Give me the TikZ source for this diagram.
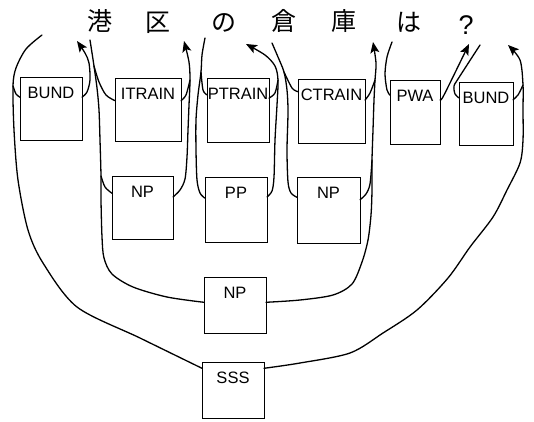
\documentclass[tikz,border=0pt]{standalone}
\usepackage{fontspec}
\newfontfamily\cjk{Noto Sans CJK JP}
\newfontfamily\lblfont{Liberation Sans}
\usetikzlibrary{arrows.meta}
\tikzset{
  box/.style={draw, line width=1pt, inner sep=0pt, outer sep=0pt},
  lbl/.style={font=\lblfont\fontsize{16.5}{16.5}\selectfont, inner sep=0pt, anchor=north, yshift=-9.5pt},
  wire/.style={line width=1.3pt, line cap=round, line join=round},
  arr/.style={wire, -{Stealth[length=11pt,width=9pt,inset=2.5pt]}},
  word/.style={font=\cjk\fontsize{25}{25}\selectfont, inner sep=0pt},
  qmark/.style={font=\lblfont\fontsize{27}{27}\selectfont, inner sep=0pt},
}
\begin{document}
\begin{tikzpicture}[x=1pt,y=-1pt]
\useasboundingbox (0,0) rectangle (534,421);
% title
\node[word] (w1) at (100,21) {港};
\node[word] (w2) at (158,23) {区};
\node[word] (w3) at (224,23) {の};
\node[word] (w4) at (284,21) {倉};
\node[word] (w5) at (344,21) {庫};
\node[word] (w6) at (409,22) {は};
\node[qmark] (w7) at (466,25) {?};
% boxes
\node[box, minimum width=62pt, minimum height=63pt, label={[lbl]north:BUND}] (b1) at (51,108.5) {};
\node[box, minimum width=66pt, minimum height=63pt, label={[lbl]north:ITRAIN}] (b2) at (148,109.5) {};
\node[box, minimum width=62pt, minimum height=64pt, label={[lbl]north:PTRAIN}] (b3) at (238,110) {};
\node[box, minimum width=67pt, minimum height=64pt, label={[lbl]north:CTRAIN}] (b4) at (331.5,111) {};
\node[box, minimum width=50pt, minimum height=64pt, label={[lbl]north:PWA}] (b5) at (415,112) {};
\node[box, minimum width=54pt, minimum height=63pt, label={[lbl]north:BUND}] (b6) at (486,113.5) {};
\node[box, minimum width=61pt, minimum height=63pt, label={[lbl]north:NP}] (n1) at (142.5,207.5) {};
\node[box, minimum width=62pt, minimum height=65pt, label={[lbl]north:PP}] (n2) at (236,209.5) {};
\node[box, minimum width=63pt, minimum height=66pt, label={[lbl]north:NP}] (n3) at (328.5,210) {};
\node[box, minimum width=62pt, minimum height=56pt, label={[lbl]north:NP}] (np) at (235,305) {};
\node[box, minimum width=62pt, minimum height=56pt, label={[lbl]north:SSS}] (s) at (233,390) {};
% free ends
\coordinate (t0) at (42,35);
\coordinate (a1) at (77,41);
\coordinate (t1) at (90,40);
\coordinate (a2) at (184,41);
\coordinate (t2) at (205,38);
\coordinate (a3) at (246,44);
\coordinate (t3) at (272,43);
\coordinate (a4) at (373,42);
\coordinate (t4) at (392,42);
\coordinate (a5) at (469,44);
\coordinate (t5) at (480,45);
\coordinate (a6) at (508,45);
% SSS left -> t0
\draw[wire] plot[smooth] coordinates {(s.145) (140,338) (77,307) (43,263) (28,230) (18,180) (14,130) (13,86) (16,68) (26,49) (t0)};
\draw[wire] plot[smooth] coordinates {(b1.160) (16,94) (13,86)};
% BUND right
\draw[arr] plot[smooth] coordinates {(b1.20) (87,92) (90,80) (89,63) (85,53) (a1)};
% NP(row3) left -> t1
\draw[wire] plot[smooth] coordinates {(np.175) (167,297) (133,287) (112,274) (104,258) (102,237) (101,200) (101,176) (100,140) (99,110) (97,88) (94,66) (t1)};
\draw[wire] plot[smooth] coordinates {(n1.155) (105,187) (101,176)};
\draw[wire] plot[smooth] coordinates {(b2.165) (106,95) (99,82) (94,66)};
% NP1 right -> a2
\draw[arr] plot[smooth] coordinates {(n1.19) (180,190) (185,179) (187,157) (188,130) (189,105) (190,80) (189,62) (a2)};
\draw[wire] plot[smooth] coordinates {(b2.15) (186,95) (190,80)};
% PP left -> t2
\draw[wire] plot[smooth] coordinates {(n2.160) (200,193) (197,180) (196,150) (196,120) (198,95) (201,72) (202,55) (t2)};
\draw[wire] plot[smooth] coordinates {(b3.154) (203,90) (201,72)};
% PP right -> a3
\draw[arr] plot[smooth] coordinates {(n2.22) (272,191) (274,177) (275,140) (277,105) (278,80) (275,66) (265,55) (a3)};
\draw[wire] plot[smooth] coordinates {(b3.21) (275,93) (278,80)};
% NP2 left -> t3
\draw[wire] plot[smooth] coordinates {(n3.158) (291,193) (288,182) (287,150) (288,112) (287,90) (284,72) (278,57) (t3)};
\draw[wire] plot[smooth] coordinates {(b4.150) (292,88) (284,72)};
% NP(row3) right -> a4
\draw[arr] plot[smooth] coordinates {(np.5) (300,300) (333,295) (352,284) (362,262) (368,240) (371,215) (372,190) (372,160) (373,130) (374,100) (375,80) (376,63) (a4)};
\draw[wire] plot[smooth] coordinates {(n3.18) (366,194) (370,184) (372,160)};
\draw[wire] plot[smooth] coordinates {(b4.18) (370,93) (375,80)};
% PWA
\draw[wire] plot[smooth] coordinates {(b5.146) (387,90) (385,74) (387,57) (t4)};
\draw[arr] plot[smooth] coordinates {(b5.26) (444,95) (a5)};
% BUND2 left
\draw[wire] plot[smooth] coordinates {(b6.150) (455,94) (454,86) (458,79) (t5)};
% SSS right -> a6
\draw[arr] plot[smooth] coordinates {(s.35) (300,363) (350,353) (383,333) (417,310) (448,278) (470,247) (493,217) (507,190) (520,163) (523,140) (523,110) (523,85) (520,60) (a6)};
\draw[wire] plot[smooth] coordinates {(b6.27) (518,95) (523,85)};
\end{tikzpicture}
\end{document}
